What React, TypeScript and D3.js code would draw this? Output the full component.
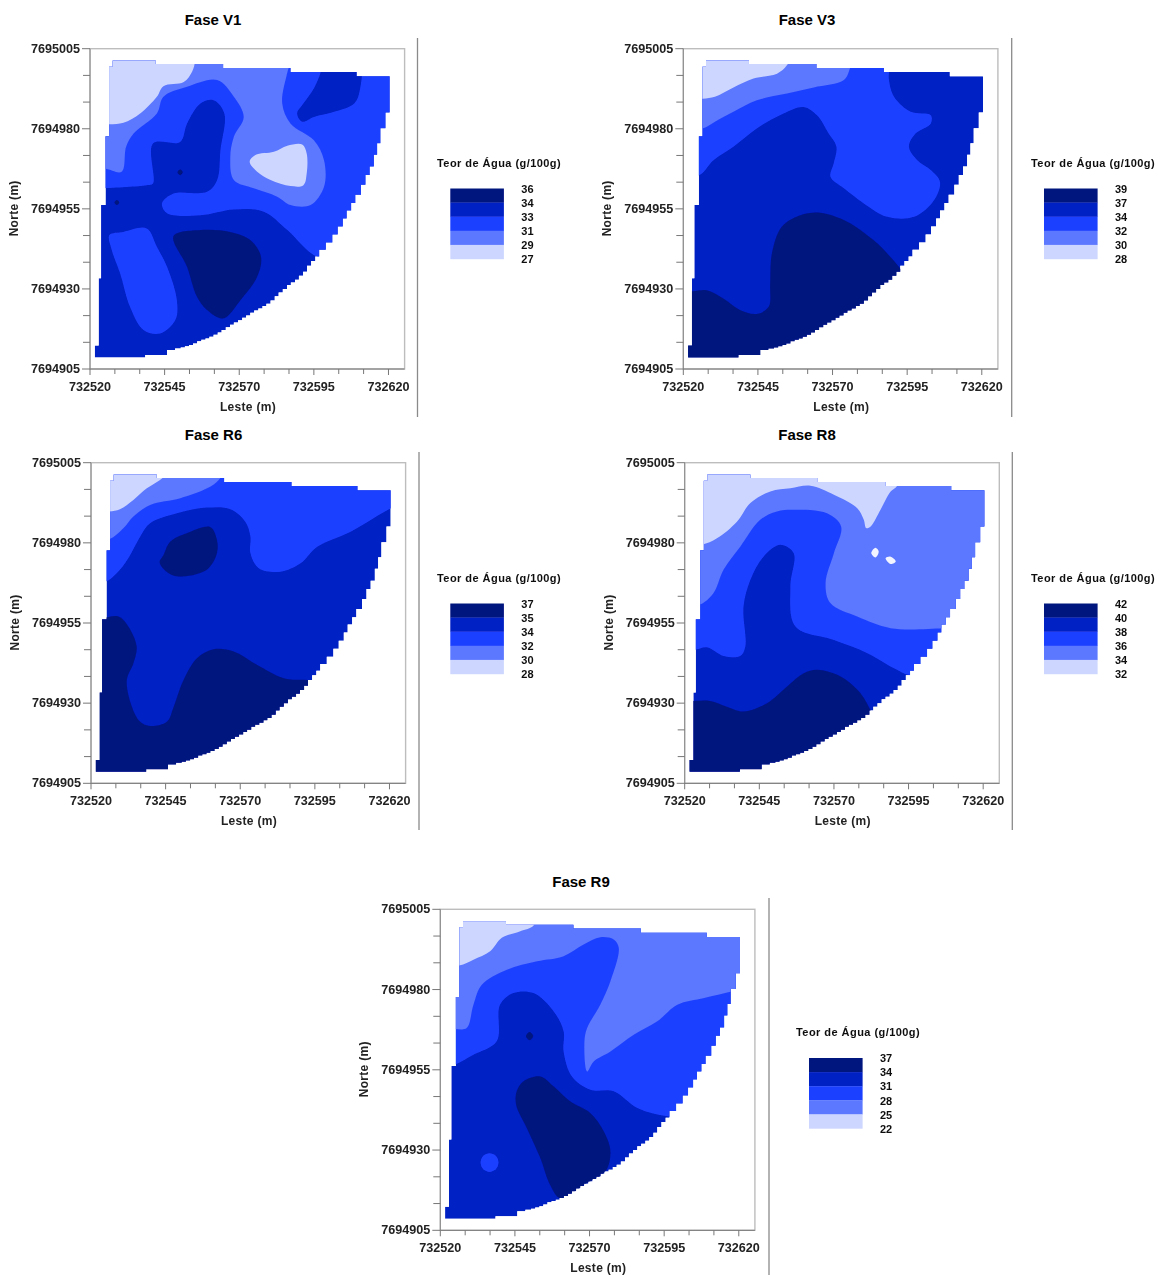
import React from "react";
import * as D3 from "d3";

type P = [number, number];

const EAST0 = 732520;
const NORTH0 = 7694905;
const xLabelled = [732520, 732545, 732570, 732595, 732620];
const yLabelled = [7694905, 7694930, 7694955, 7694980, 7695005];

// colours, darkest first
const bandColors = ["#00127f", "#0020c4", "#1f40ff", "#5c78ff", "#cdd6ff"];

// Surveyed area: staircase outline in metres from the SW origin (vertical move, then horizontal)
const fieldOutline: P[] = [
  [1.6, 3.6], [2.9, 7.3], [3.7, 28.3], [5.2, 51.2], [6.4, 72.7], [7.6, 94.4], [22, 96.3], [44.6, 95.2],
  [67.2, 94], [89.3, 92.7], [100.4, 91.4],
  [99, 80.1], [97.3, 75.2], [96.2, 70.5], [95.1, 66.9], [93.7, 63.2], [92.3, 60.6], [90.8, 57.5], [88.9, 54.4],
  [87.5, 51.8], [86, 49.5], [84.7, 47], [83, 44.5], [81.2, 42], [79, 39.5], [76.8, 37.2],
  [75.5, 35.1], [74.1, 33.7], [72.7, 32.2], [71.4, 30.4], [70, 29.1], [68.7, 27.9], [67.3, 27], [66, 26.2],
  [64.6, 25], [63.2, 23.9], [61.9, 22.7], [60.5, 21.4], [59.1, 20.4], [57.8, 19.7], [56.4, 18.9], [55, 18.3],
  [53.7, 17.6], [52.3, 16.7], [51, 16], [49.6, 15.2], [48.2, 14.5], [46.9, 13.8], [45.5, 13], [44.1, 12.2],
  [42.8, 11.4], [41.4, 10.7], [40, 10.1], [38.7, 9.5], [37.3, 9.1], [35.9, 8.7], [34.5, 8], [33.2, 7.5],
  [31.8, 7.1], [30.4, 6.7], [28.5, 6.4], [25.8, 5.9], [18.5, 4.4], [1.6, 3.6],
];

// Fase V1
const v1Band3: P[] = [[-5, 56.4], [2.2, 56.4], [19, 57.4], [21.1, 57.9], [21.1, 70.4], [30.2, 70.9], [32.5, 76.6], [37, 82.9], [41.4, 83.9], [45, 79.8], [43.7, 68.3], [42.6, 59], [39.2, 55.3], [28, 54.8], [24.1, 51.7], [25.8, 48.6], [37, 48], [48.2, 49.8], [58.2, 49.1], [66.1, 43.4], [76.2, 35], [87.4, 35], [110, 63], [110, 105], [-5, 105]];
const v1Band4: P[] = [[-5, 63.5], [5, 62.6], [10.6, 61.6], [12.1, 69.4], [14.6, 73.5], [22.4, 79.8], [24.6, 85], [32.5, 88.1], [42.6, 90.2], [48.2, 85], [51.5, 78.7], [48.2, 72.5], [47, 66.2], [48.2, 59], [54.9, 56.4], [62.7, 53.8], [67.2, 51.2], [73.9, 51.2], [78.4, 56.9], [78.4, 65.2], [75, 71.4], [67.2, 76.6], [64.4, 82.9], [66, 92.2], [68.3, 99.5], [67, 105], [-5, 105]];
const v1Band5a: P[] = [[-3, 76.3], [6.4, 76.4], [11.2, 76.9], [16.8, 79.8], [22.4, 85], [24.6, 88.3], [31.4, 89.6], [34.2, 92.8], [35.3, 96.4], [35.8, 101.6], [-3, 101.6]];
const v1Band5b: P[] = [[53.5, 64.7], [55.4, 66.8], [61.6, 67.8], [66.1, 69.7], [71.1, 70.1], [72.6, 67.3], [72.6, 61], [71.5, 57.4], [67.2, 57.1], [60.5, 59], [56, 61.6]];
const v1Band2: P[] = [[69.4, 79.8], [71.1, 82.4], [75, 87.6], [77.3, 92.7], [77.8, 96.4], [90.2, 96.4], [90.5, 87.6], [88.5, 82.9], [81.8, 80.3], [75, 78.7], [71.1, 77.2]];
const v1Band1: P[] = [[28, 41.5], [37, 43.4], [47, 42.8], [53.8, 40.2], [57.3, 35], [56, 28.8], [50.4, 21.5], [44.6, 15.8], [39.2, 18.4], [35.8, 22.6], [32.5, 31.9]];
const v1Band3b: P[] = [[6.5, 41.8], [11.2, 42.8], [19, 43.9], [22.4, 38.2], [25.8, 31.9], [29.1, 21.5], [28.6, 15.3], [23.5, 11.1], [17.9, 12.2], [13.4, 19.4], [10.1, 29.8], [7.3, 37.1]];
const v1Dot1: P[] = [[30.2, 62.3], [31.1, 61.4], [30.2, 60.5], [29.3, 61.4]];
const v1Dot2: P[] = [[9, 52.8], [9.8, 52], [9, 51.2], [8.2, 52]];

// Fase V3
const v3Band1: P[] = [[-5.6, 24.3], [3.1, 24.3], [7.8, 24.6], [13.4, 22], [19, 18.4], [24.6, 17.2], [28.6, 19.4], [29.1, 26.7], [29.7, 36.1], [33, 44.4], [39.2, 48], [45.9, 48.8], [54.9, 46], [63.8, 40.2], [69.4, 35], [73.4, 30.4], [78.4, 21.5], [61.6, 0.7], [-5.6, 0.7]];
const v3Band3: P[] = [[-3, 60], [5.3, 60.5], [10.1, 65.2], [16.8, 69.4], [24.6, 75.1], [33.6, 79.8], [40.3, 81.8], [44.8, 79.2], [48.7, 73.5], [51.3, 69.4], [50.4, 64.2], [49.3, 60], [53.8, 56.4], [60.5, 51.7], [68.3, 47.5], [77.3, 47.5], [84, 52.7], [86, 58.4], [82.9, 62.1], [78.4, 65.2], [75.6, 69.4], [77.8, 73.5], [82.9, 76.6], [82.9, 79.2], [76.2, 80.3], [70.6, 85], [68.9, 90.2], [68.9, 92.7], [69.4, 99.5], [70, 105], [-3, 105]];
const v3Band4: P[] = [[-3, 74.6], [6.4, 75.1], [10.6, 77.2], [16.8, 80.3], [24.6, 83.9], [34.7, 86], [43.7, 87.9], [53.8, 90.2], [55.8, 93.8], [57.1, 99.5], [57, 105], [-3, 105]];
const v3Band5: P[] = [[-3, 84.4], [6.4, 84.4], [10.6, 85], [16.8, 87.9], [23.5, 90.7], [31.4, 92.2], [34.7, 94.8], [36.4, 98.5], [36.4, 105], [-3, 105]];

// Fase R6
const r6Band1: P[] = [[-5, 51.5], [3.4, 51.5], [9.2, 52], [12.5, 48.9], [15.3, 42.6], [14.2, 37.4], [12, 32.2], [13.7, 23.9], [16.5, 19.2], [19.8, 17.9], [25.4, 19.2], [27.7, 23.9], [31, 32.2], [35.5, 39], [41.1, 41.8], [47.8, 41.1], [55.7, 36.9], [64.6, 32.8], [73.6, 32.2], [81.4, 31.2], [59, -1], [-8, -1]];
const r6Band1b: P[] = [[23, 68.8], [24.3, 71.2], [26.6, 75.4], [32.1, 78], [40, 79.9], [42.2, 75.9], [42.2, 71.8], [39.4, 67.1], [33.3, 64.8], [27.1, 65]];
const r6Band3: P[] = [[-3, 63], [4.8, 62.9], [8.6, 65.5], [12.5, 70.2], [16.5, 77], [19.8, 81.1], [28.8, 84.2], [38.9, 86], [46.7, 85.5], [51.7, 81.6], [53.4, 77], [53.4, 71.8], [56.2, 67.1], [63.5, 66], [70.2, 68.6], [75.8, 73.8], [87, 78.5], [100.5, 85.8], [109.4, 89.4], [109.4, 105], [-3, 105]];
const r6Band4: P[] = [[-3, 76.3], [6, 76.1], [10.9, 79.6], [14.2, 83.2], [19.8, 86.8], [29.9, 88.9], [38.9, 92], [42.8, 94.6], [44.5, 97.8], [44.5, 105], [-3, 105]];
const r6Band5: P[] = [[-3, 84.8], [6, 84.8], [9.7, 85.5], [14.2, 88.4], [18.7, 92], [24.3, 95.5], [28, 100], [28, 105], [-3, 105]];

// Fase R8
const r8Band3: P[] = [[-5, 41.6], [3.2, 41.6], [7.4, 42.4], [13, 39.7], [18.6, 39.7], [20.3, 42.6], [19.7, 55.1], [22, 63.4], [26.4, 70.7], [32, 74.4], [36.5, 71.8], [35.4, 61.4], [37.1, 48.9], [50, 44.7], [61.2, 40.6], [70.1, 35.9], [75.2, 33.8], [83.6, 34.3], [110, 60], [110, 105], [-5, 105]];
const r8Band4: P[] = [[-5, 56], [4.6, 55.6], [9.6, 59.3], [13, 66.6], [18.6, 73.8], [25.3, 82.2], [30.9, 84.8], [36.5, 85.3], [47.7, 84.2], [52.4, 80.1], [50, 71.8], [47.2, 62.4], [48.8, 56.2], [57.8, 52], [69, 48.4], [86.4, 48.4], [92.5, 48.9], [110, 60], [110, 105], [-5, 105]];
const r8Band5: P[] = [[-3, 74.4], [5.7, 74.4], [10.8, 76.4], [17.5, 81.6], [22, 87.4], [28.7, 91], [35.4, 92], [42.1, 92.8], [50, 90], [57.8, 85.8], [60, 82.2], [60.8, 79.6], [62.3, 80.1], [65.6, 85.3], [69, 91], [71.2, 92.8], [72.4, 99.8], [72.4, 105], [-3, 105]];
const r8Band1: P[] = [[-5, 25.7], [2.4, 25.7], [8.5, 25.7], [14.1, 23.9], [19.7, 22.4], [27.6, 25], [34.3, 30.2], [39.9, 34.3], [44.4, 35.4], [52.2, 33.3], [58.9, 28.1], [62.8, 21.8], [66.8, 14.6], [61.2, -1], [-6, -1]];
const r8Speck1: P[] = [[62.5, 71.8], [63.9, 73.5], [65, 72.3], [63.9, 70.4]];
const r8Speck2: P[] = [[67.3, 70.2], [69, 70.7], [70.7, 69.2], [69, 68.4]];

// Fase R9
const r9Band1: P[] = [[25.6, 43.3], [27.9, 46.4], [33.5, 47.9], [38, 44.8], [43.6, 40.1], [50.3, 36.5], [54.8, 30.8], [57, 24.5], [55.3, 18.3], [49.2, 14.7], [40.2, 10], [36.8, 14.1], [33.5, 22.5], [29, 31.8], [25.4, 39.1]];
const r9Band3: P[] = [[-5, 51.3], [3.6, 51.3], [11.1, 54.7], [18.9, 58.9], [20, 70.3], [24.5, 73.9], [31.2, 73.9], [38, 68.2], [41.3, 62], [41.3, 55.7], [44.1, 47.9], [50.3, 43.8], [58.1, 43.3], [66, 38.1], [76, 35.5], [83.9, 34.9], [110, 60], [110, 105], [-5, 105]];
const r9Band4: P[] = [[-5, 62.7], [4.6, 62.7], [8.8, 63], [11.1, 70.3], [13.9, 76.5], [22.3, 81.2], [32.4, 83.8], [41.3, 85.4], [48, 89], [53.6, 91.3], [58.1, 90.6], [59.8, 88], [57, 77.6], [53.6, 70.3], [49.2, 63], [48.3, 58.9], [49.2, 49.5], [51.4, 52.6], [57, 55.7], [64.8, 60.9], [72.7, 65.1], [79.4, 70.3], [88.4, 72.4], [97.9, 74.5], [110, 77.6], [110, 105], [-5, 105]];
const r9Band5: P[] = [[-5, 82.5], [6.3, 82.5], [11.1, 84.3], [16.7, 86.9], [20.6, 91.1], [26.8, 93.2], [31.2, 94.9], [32.4, 98.4], [32.4, 105], [-5, 105]];
const r9Spot3: P[] = [[16.5, 24], [18.6, 23.2], [19.5, 21.1], [18.6, 19], [16.5, 18.2], [14.4, 19], [13.5, 21.1], [14.4, 23.2]];
const r9Dot1: P[] = [[29.9, 61.8], [31.1, 60.5], [29.9, 59.2], [28.7, 60.5]];

const legendV1 = ["36", "34", "33", "31", "29", "27"];
const legendV3 = ["39", "37", "34", "32", "30", "28"];
const legendR6 = ["37", "35", "34", "32", "30", "28"];
const legendR8 = ["42", "40", "38", "36", "34", "32"];
const legendR9 = ["37", "34", "31", "28", "25", "22"];

type Layer = { band: number; pts: P[] };
const SPECK = 5;

const layersV1: Layer[] = [
  { band: 2, pts: v1Band3 }, { band: 3, pts: v1Band4 }, { band: 4, pts: v1Band5a }, { band: 4, pts: v1Band5b },
  { band: 1, pts: v1Band2 }, { band: 0, pts: v1Band1 }, { band: 2, pts: v1Band3b }, { band: 0, pts: v1Dot1 }, { band: 0, pts: v1Dot2 },
];
const layersV3: Layer[] = [
  { band: 0, pts: v3Band1 }, { band: 2, pts: v3Band3 }, { band: 3, pts: v3Band4 }, { band: 4, pts: v3Band5 },
];
const layersR6: Layer[] = [
  { band: 0, pts: r6Band1 }, { band: 2, pts: r6Band3 }, { band: 3, pts: r6Band4 }, { band: 4, pts: r6Band5 }, { band: 0, pts: r6Band1b },
];
const layersR8: Layer[] = [
  { band: 2, pts: r8Band3 }, { band: 3, pts: r8Band4 }, { band: 4, pts: r8Band5 }, { band: 0, pts: r8Band1 },
  { band: SPECK, pts: r8Speck1 }, { band: SPECK, pts: r8Speck2 },
];
const layersR9: Layer[] = [
  { band: 0, pts: r9Band1 }, { band: 2, pts: r9Band3 }, { band: 3, pts: r9Band4 }, { band: 4, pts: r9Band5 },
  { band: 2, pts: r9Spot3 }, { band: 0, pts: r9Dot1 },
];

const panels = [
  { id: "v1", title: "Fase V1", layers: layersV1, legend: legendV1, left: 90, top: 48.7, bottom: 369, titleX: 213, titleY: 20, sep: [417.5, 38, 417], legX: 450.3, legY: 188.5, legTitleX: 437, legTitleY: 163 },
  { id: "v3", title: "Fase V3", layers: layersV3, legend: legendV3, left: 683.3, top: 48.7, bottom: 369, titleX: 807, titleY: 20, sep: [1011.7, 38, 417], legX: 1044, legY: 188.5, legTitleX: 1031, legTitleY: 163 },
  { id: "r6", title: "Fase R6", layers: layersR6, legend: legendR6, left: 91, top: 462.7, bottom: 783.3, titleX: 213.5, titleY: 434.5, sep: [419, 452, 830], legX: 450.3, legY: 603.5, legTitleX: 437, legTitleY: 578 },
  { id: "r8", title: "Fase R8", layers: layersR8, legend: legendR8, left: 684.7, top: 462.7, bottom: 783.3, titleX: 807, titleY: 434.5, sep: [1012.3, 452, 830], legX: 1044, legY: 603.5, legTitleX: 1031, legTitleY: 578 },
  { id: "r9", title: "Fase R9", layers: layersR9, legend: legendR9, left: 440.3, top: 909.3, bottom: 1230.3, titleX: 581, titleY: 881.5, sep: [769, 898, 1275], legX: 809, legY: 1058, legTitleX: 796, legTitleY: 1032 },
];

const FONT = "'Liberation Sans', Arial, sans-serif";
const FRAME_W = 314.6;
const X_SPAN = 105.4;

function Panel({ p }: { p: (typeof panels)[number] }) {
  const x = D3.scaleLinear().domain([EAST0, EAST0 + X_SPAN]).range([p.left, p.left + FRAME_W]);
  const y = D3.scaleLinear().domain([NORTH0, NORTH0 + 100]).range([p.bottom, p.top]);
  const px = (d: P) => x(EAST0 + d[0]);
  const py = (d: P) => y(NORTH0 + d[1]);
  const stair = D3.line<P>().x(px).y(py).curve(D3.curveStepBefore);
  const blob = D3.line<P>().x(px).y(py).curve(D3.curveCatmullRomClosed.alpha(0.5));
  const field = stair(fieldOutline) + "Z";
  const xTicks = D3.range(0, 13).map((i) => EAST0 + (i * 100) / 12);
  const yTicks = D3.range(0, 13).map((i) => NORTH0 + (i * 100) / 12);
  const right = p.left + FRAME_W;
  const cx = p.left + 158;
  const bandH = 14.1;
  const legendScale = D3.scaleLinear().domain([0, 5]).range([p.legY, p.legY + 5 * bandH]);

  return (
    <g>
      <text x={p.titleX} y={p.titleY + 5} textAnchor="middle" fontFamily={FONT} fontWeight="700" fontSize={15} fill="#000">
        {p.title}
      </text>
      <line x1={p.sep[0]} x2={p.sep[0]} y1={p.sep[1]} y2={p.sep[2]} stroke="#8a8a8a" strokeWidth={1.3} />
      <clipPath id={"clip-" + p.id}>
        <path d={field} />
      </clipPath>
      <rect x={p.left} y={p.top} width={FRAME_W} height={p.bottom - p.top} fill="#fff" stroke="#bdbdbd" strokeWidth={1.4} />
      <g filter="url(#soft)">
        <g clipPath={`url(#clip-${p.id})`}>
          <path d={field} fill={bandColors[1]} />
          {p.layers.map((l, i) => (
            <path key={i} d={blob(l.pts) || ""} fill={l.band === SPECK ? "#f2f4ff" : bandColors[l.band]} />
          ))}
        </g>
      </g>
      <g filter="url(#softText)">
        <line x1={p.left} x2={p.left} y1={p.top} y2={p.bottom} stroke="#8a8a8a" strokeWidth={1} />
        <line x1={p.left} x2={right} y1={p.bottom} y2={p.bottom} stroke="#777" strokeWidth={1} />
        {yTicks.map((t, i) => (
          <line key={i} x1={p.left - (i % 3 === 0 ? 8 : 7)} x2={p.left} y1={y(t)} y2={y(t)} stroke="#777" strokeWidth={1} />
        ))}
        {xTicks.map((t, i) => (
          <line key={i} y1={p.bottom} y2={p.bottom + (i % 3 === 0 ? 6 : 5)} x1={x(t)} x2={x(t)} stroke="#777" strokeWidth={1} />
        ))}
        {yLabelled.map((t) => (
          <text key={t} x={p.left - 10} y={y(t) + 4} textAnchor="end" fontFamily={FONT} fontWeight="700" fontSize={12.6} fill="#222">
            {t}
          </text>
        ))}
        {xLabelled.map((t) => (
          <text key={t} x={x(t)} y={p.bottom + 21.5} textAnchor="middle" fontFamily={FONT} fontWeight="700" fontSize={12.6} fill="#222">
            {t}
          </text>
        ))}
        <text x={cx} y={p.bottom + 41.5} textAnchor="middle" fontFamily={FONT} fontWeight="700" fontSize={12} letterSpacing={0.3} fill="#222">
          Leste (m)
        </text>
        <text transform={`translate(${p.left - 72},${(p.top + p.bottom) / 2 - 0.5}) rotate(-90)`} textAnchor="middle" fontFamily={FONT} fontWeight="700" fontSize={12} letterSpacing={0.3} fill="#222">
          Norte (m)
        </text>
      </g>
      <g filter="url(#softText)">
        <text x={p.legTitleX} y={p.legTitleY + 4} fontFamily={FONT} fontWeight="700" fontSize={11} letterSpacing={0.45} fill="#111">
          Teor de Água (g/100g)
        </text>
        {D3.range(0, 5).map((i) => (
          <rect key={i} x={p.legX} y={legendScale(i)} width={53.6} height={bandH + 0.2} fill={bandColors[i]} />
        ))}
        {p.legend.map((v, i) => (
          <text key={v + i} x={p.legX + 71} y={legendScale(i) + 4.2} fontFamily={FONT} fontWeight="700" fontSize={11} fill="#111">
            {v}
          </text>
        ))}
      </g>
    </g>
  );
}

export default function App() {
  return (
    <svg width={1167} height={1275} viewBox="0 0 1167 1275" style={{ position: "absolute", left: 0, top: 0, display: "block", background: "#fff" }}>
      <defs>
        <filter id="soft" x="-5%" y="-5%" width="110%" height="110%">
          <feGaussianBlur stdDeviation={0.5} />
        </filter>
        <filter id="softText" x="-10%" y="-10%" width="120%" height="120%">
          <feGaussianBlur stdDeviation={0.4} />
        </filter>
      </defs>
      {panels.map((p) => (
        <Panel key={p.id} p={p} />
      ))}
    </svg>
  );
}
